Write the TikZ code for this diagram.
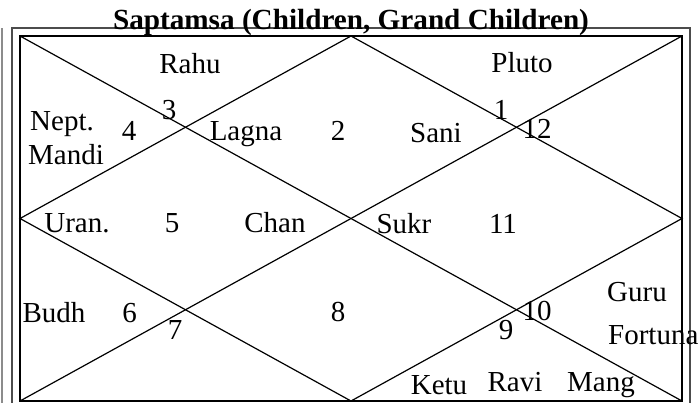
\documentclass[tikz,border=0pt]{standalone}
\usepackage{fontspec}
\setmainfont{Liberation Serif}
\begin{document}
\begin{tikzpicture}[x=1pt,y=-1pt,
  lbl/.style={font=\fontsize{29}{30}\selectfont, inner sep=0pt, anchor=base},
  lblw/.style={lbl, anchor=base west},
  ttl/.style={font=\fontsize{29.2}{30}\selectfont\bfseries, inner sep=0pt, anchor=base},
  chartline/.style={draw=black, line width=1.2pt},
  frameline/.style={draw=black, line width=1.6pt}]
\useasboundingbox (0,0) rectangle (698,402);
% outer frames
\draw[draw=black!45, line width=2pt] (2,28) -- (2,410);
\draw[draw=black!70, line width=1.5pt] (12,410) -- (12,28) -- (690,28) -- (690,410);
% chart corners
\coordinate (TL) at (20,36);
\coordinate (TR) at (682,36);
\coordinate (BL) at (20,401);
\coordinate (BR) at (682,401);
\coordinate (T) at (351,36);
\coordinate (B) at (351,401);
\coordinate (L) at (20,218.5);
\coordinate (R) at (682,218.5);
\draw[frameline] (TL) -- (TR) -- (BR) -- (BL) -- cycle;
\draw[chartline] (TL) -- (BR);
\draw[chartline] (TR) -- (BL);
\draw[chartline] (T) -- (R) -- (B) -- (L) -- cycle;
% title
\node[ttl] (title) at (351,29) {Saptamsa (Children, Grand Children)};
% labels
\node[lbl] (rahu) at (190,73) {Rahu};
\node[lbl] (pluto) at (522,72) {Pluto};
\node[lbl] (h3) at (169,119) {3};
\node[lbl] (h1) at (501,119) {1};
\node[lblw] (nept) at (30,130) {Nept.};
\node[lblw] (mandi) at (28,164) {Mandi};
\node[lbl] (h4) at (129,140) {4};
\node[lbl] (lagna) at (246,140) {Lagna};
\node[lbl] (h2) at (338,140) {2};
\node[lbl] (sani) at (436,142) {Sani};
\node[lbl] (h12) at (537,138) {12};
\node[lbl] (uran) at (77,232) {Uran.};
\node[lbl] (h5) at (172,232) {5};
\node[lbl] (chan) at (275,232) {Chan};
\node[lbl] (sukr) at (404,233) {Sukr};
\node[lbl] (h11) at (503,233) {11};
\node[lbl] (budh) at (54,322) {Budh};
\node[lbl] (h6) at (129.5,322) {6};
\node[lbl] (h7) at (175,339) {7};
\node[lbl] (h8) at (338,321) {8};
\node[lbl] (h9) at (506,339) {9};
\node[lbl] (h10) at (537,320) {10};
\node[lbl] (guru) at (637,301) {Guru};
\node[lblw] (fortuna) at (608,344) {Fortuna};
\node[lbl] (ketu) at (439,394) {Ketu};
\node[lbl] (ravi) at (515,391) {Ravi};
\node[lbl] (mang) at (601,391) {Mang};
\end{tikzpicture}
\end{document}
